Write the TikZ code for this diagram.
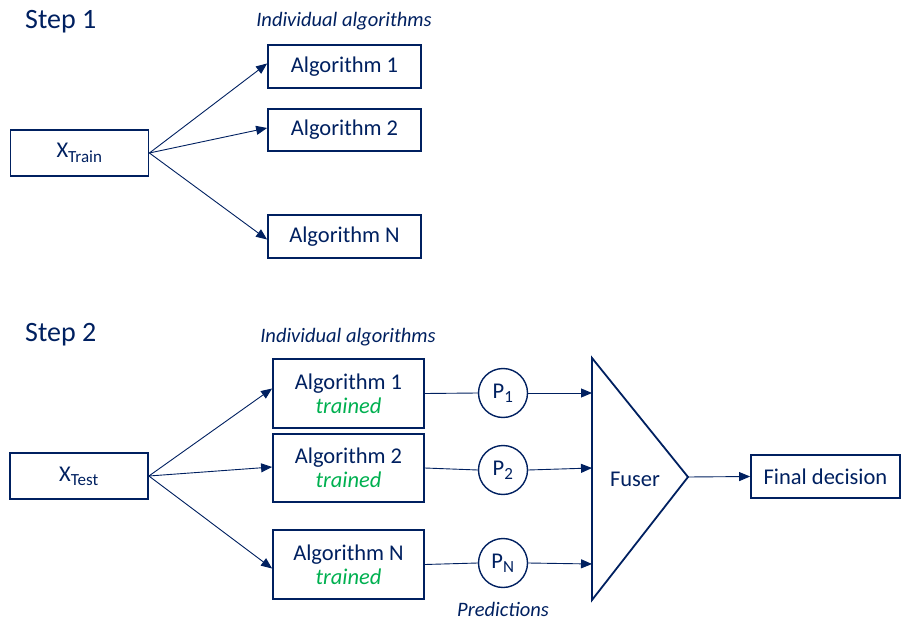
\documentclass[tikz,border=0pt]{standalone}
\usepackage{fontspec}
\setmainfont{Carlito}
\usetikzlibrary{arrows.meta}
\definecolor{navy}{RGB}{0,32,96}
\definecolor{grn}{RGB}{0,176,80}
\newcommand{\subsz}{\fontsize{17}{20}\selectfont}
\begin{document}
\begin{tikzpicture}[x=1pt,y=-1pt,
  box/.style={draw=navy,line width=1.8pt,text=navy,inner sep=0pt,font=\fontsize{22.5}{27}\selectfont,align=center},
  pcirc/.style={draw=navy,line width=1.4pt,circle,minimum size=49pt,inner sep=0pt,text=navy,font=\fontsize{22.5}{27}\selectfont},
  conn/.style={draw=navy,line width=0.9pt,-{Triangle[length=11pt,width=9pt]}},
  plain/.style={draw=navy,line width=0.9pt},
  lbl/.style={text=navy,font=\fontsize{20.5}{24}\selectfont\itshape,inner sep=0pt},
  steplbl/.style={text=navy,font=\fontsize{28}{32}\selectfont,inner sep=0pt,anchor=west}
]
\useasboundingbox (0,0) rectangle (902,620);
% Step 1
\node[steplbl] (s1) at (25,22) {Step 1};
\node[lbl] (ia1) at (344,21) {Individual algorithms};
\node[box,minimum width=138pt,minimum height=46pt] (xtr) at (79.5,153) {X\textsubscript{\subsz Train}};
\node[box,minimum width=153pt,minimum height=43pt] (a1) at (344.5,66.5) {Algorithm 1};
\node[box,minimum width=153pt,minimum height=42pt] (a2) at (344.5,130) {Algorithm 2};
\node[box,minimum width=153pt,minimum height=43pt] (an) at (344.5,236.5) {Algorithm N};
\draw[conn] (xtr.east) -- ([yshift=3pt]a1.west);
\draw[conn] (xtr.east) -- ([yshift=2pt]a2.west);
\draw[conn] (xtr.east) -- ([yshift=-3pt]an.west);
% Step 2
\node[steplbl] (s2) at (25,335) {Step 2};
\node[lbl] (ia2) at (348,337) {Individual algorithms};
\node[box,minimum width=138pt,minimum height=46pt] (xte) at (79,476) {X\textsubscript{\subsz Test}};
\node[box,minimum width=151pt,minimum height=69pt] (b1) at (348.5,393.5) {Algorithm 1\\[-3pt]{\color{grn}\itshape trained}};
\node[box,minimum width=151pt,minimum height=68pt] (b2) at (348.5,468) {Algorithm 2\\[-3pt]{\color{grn}\itshape trained}};
\node[box,minimum width=151pt,minimum height=69pt] (bn) at (348.5,564.5) {Algorithm N\\[-3pt]{\color{grn}\itshape trained}};
\draw[conn] (xte.east) -- ([yshift=5pt]b1.west);
\draw[conn] (xte.east) -- ([yshift=1pt]b2.west);
\draw[conn] (xte.east) -- ([yshift=-4pt]bn.west);
\node[pcirc] (p1) at (503,393) {P\textsubscript{\subsz 1}};
\node[pcirc] (p2) at (503,470) {P\textsubscript{\subsz 2}};
\node[pcirc] (pn) at (503,563) {P\textsubscript{\subsz N}};
\draw[plain] (b1.east) -- (p1.west);
\draw[plain] (b2.east) -- (p2.west);
\draw[plain] (bn.east) -- (pn.west);
% Fuser
\coordinate (t1) at (592,358);
\coordinate (t2) at (592,600);
\coordinate (apex) at (688,477);
\draw[navy,line width=1.8pt,line join=miter] (t1) -- (apex) -- (t2) -- cycle;
\node[text=navy,font=\fontsize{22.5}{27}\selectfont,inner sep=0pt] (fuser) at (635,479) {Fuser};
\coordinate (f1) at (592,393);
\coordinate (f2) at (592,468);
\coordinate (fn) at (592,564);
\draw[conn] (p1.east) -- (f1);
\draw[conn] (p2.east) -- (f2);
\draw[conn] (pn.east) -- (fn);
\node[box,minimum width=149pt,minimum height=43pt] (fd) at (825.5,476.5) {Final decision};
\draw[conn] (apex) -- (fd.west);
\node[lbl] (pred) at (503,609) {Predictions};
\end{tikzpicture}
\end{document}
